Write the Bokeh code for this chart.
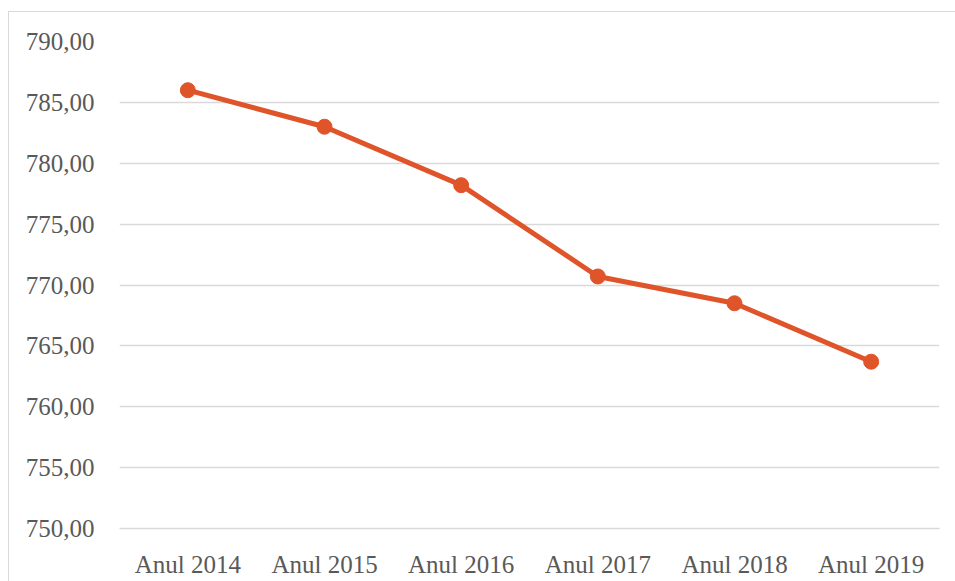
from bokeh.plotting import figure
from bokeh.embed import file_html
from bokeh.resources import INLINE
from bokeh.models import FixedTicker, ColumnDataSource

categories = ["Anul 2014", "Anul 2015", "Anul 2016", "Anul 2017", "Anul 2018", "Anul 2019"]
values = [786.0, 783.0, 778.2, 770.7, 768.5, 763.7]
y_ticks = [750, 755, 760, 765, 770, 775, 780, 785, 790]
y_tick_labels = ["750,00", "755,00", "760,00", "765,00", "770,00", "775,00", "780,00", "785,00", "790,00"]

COLOR = "#E0542A"
TEXT = "#595959"
GRID = "#D9D9D9"
FONT = "Liberation Serif"

src = ColumnDataSource(dict(x=categories, y=values))

p = figure(x_range=categories, y_range=(750, 790), width=947, height=570,
           output_backend="svg", toolbar_location=None,
           min_border_left=110, min_border_right=17, min_border_top=29, min_border_bottom=54)
p.margin = (11, 0, 0, 8)
p.styles = {"border-left": "1px solid #D9D9D9", "border-top": "1px solid #D9D9D9"}
p.outline_line_color = None
p.background_fill_color = "white"
p.border_fill_color = "white"

p.line("x", "y", source=src, line_color=COLOR, line_width=5)
p.scatter("x", "y", source=src, size=15, fill_color=COLOR, line_color=COLOR)

p.xgrid.grid_line_color = None
p.ygrid.grid_line_color = GRID
p.ygrid.grid_line_width = 1.5

p.yaxis.ticker = FixedTicker(ticks=y_ticks)
p.yaxis.major_label_overrides = {t: l for t, l in zip(y_ticks, y_tick_labels)}
p.yaxis.axis_line_color = None
p.yaxis.major_tick_line_color = None
p.yaxis.minor_tick_line_color = None
p.yaxis.major_label_standoff = 19

p.xaxis.axis_line_color = GRID
p.xaxis.axis_line_width = 1.5
p.xaxis.major_tick_line_color = None
p.xaxis.minor_tick_line_color = None
p.xaxis.major_label_standoff = 16

for ax in (p.xaxis, p.yaxis):
    ax.major_label_text_font = FONT
    ax.major_label_text_font_size = "25px"
    ax.major_label_text_color = TEXT

open("out.html", "w").write(file_html(p, INLINE))
